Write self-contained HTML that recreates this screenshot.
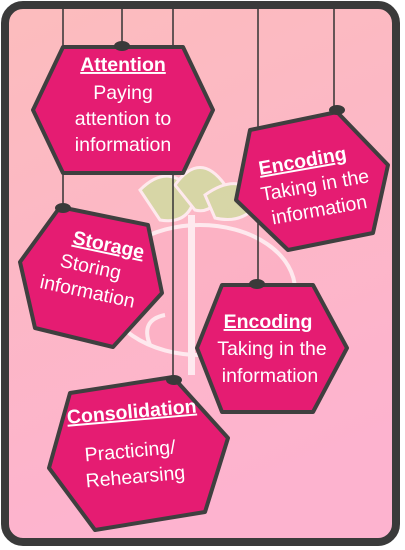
<!DOCTYPE html>
<html><head><meta charset="utf-8"><style>
html,body{margin:0;padding:0;background:#fff;}
svg{display:block;}
text{font-family:"Liberation Sans",sans-serif;fill:#fff;text-anchor:middle;}
.t{font-weight:bold;font-size:19.5px;text-decoration:underline;}
.b{font-size:19.5px;}
</style></head><body>
<svg width="405" height="550" viewBox="0 0 405 550">
<defs>
<linearGradient id="bg" x1="0" y1="0" x2="0.3" y2="1">
<stop offset="0" stop-color="#fcbcbd"/><stop offset="1" stop-color="#fdb3cf"/>
</linearGradient>
</defs>
<rect x="5" y="5" width="391" height="537" rx="18" fill="url(#bg)" stroke="#3a3a3a" stroke-width="8"/>
<g opacity="0.7">
<path d="M140 190 Q170 160 195 195 Q190 225 160 220 Z" fill="#c8e39a" stroke="#fff" stroke-width="3"/>
<path d="M175 185 Q200 150 225 185 Q215 215 195 210 Z" fill="#c8e39a" stroke="#fff" stroke-width="3"/>
<path d="M205 195 Q240 170 260 200 Q245 225 215 218 Z" fill="#c8e39a" stroke="#fff" stroke-width="3"/>
<ellipse cx="200" cy="290" rx="95" ry="65" fill="#fcb0c4" stroke="#fff" stroke-width="4"/>
<rect x="188" y="215" width="7" height="160" fill="#fff"/>
<path d="M150 345 q-10 -25 15 -30" fill="none" stroke="#fff" stroke-width="4"/>
</g>
<g stroke="#333" stroke-width="1.5">
<line x1="63" y1="9" x2="63" y2="207"/>
<line x1="122" y1="9" x2="122" y2="45"/>
<line x1="173" y1="9" x2="173" y2="380"/>
<line x1="258" y1="9" x2="258" y2="283"/>
<line x1="334" y1="9" x2="334" y2="110"/>
</g>
<g stroke="#3f3f3f" stroke-width="4" stroke-linejoin="round" fill="#e51c72">
<polygon points="33,110 63,47 183,47 213,110 183,173 63,173"/>
<polygon points="250,130 337,112 388,165 373,233 288,250 236,200"/>
<polygon points="60,207 148,225 162,293 113,347 35,328 20,262"/>
<polygon points="222,285 313,285 347,348 313,412 222,412 197,348"/>
<polygon points="70,393 173,377 228,438 205,512 95,530 49,468"/>
</g>
<g fill="#3a3a3a">
<ellipse cx="122" cy="46" rx="8" ry="5"/><ellipse cx="337" cy="110" rx="8" ry="5"/>
<ellipse cx="63" cy="208" rx="8" ry="5"/><ellipse cx="257" cy="284" rx="8" ry="5"/>
<ellipse cx="174" cy="380" rx="8" ry="5"/>
</g>
<g>
<text class="t" x="123" y="71">Attention</text>
<text class="b" x="123" y="99">Paying</text>
<text class="b" x="123" y="125">attention to</text>
<text class="b" x="123" y="151">information</text>
</g>
<g transform="rotate(-10 312 180)">
<text class="t" x="306" y="166">Encoding</text>
<text class="b" x="314" y="192">Taking in the</text>
<text class="b" x="314" y="217">information</text>
</g>
<g transform="rotate(12 90 270)">
<text class="t" x="103" y="248">Storage</text>
<text class="b" x="90" y="273">Storing</text>
<text class="b" x="92" y="298">information</text>
</g>
<g>
<text class="t" x="268" y="328">Encoding</text>
<text class="b" x="272" y="355">Taking in the</text>
<text class="b" x="270" y="382">information</text>
</g>
<g transform="rotate(-5 135 450)">
<text class="t" x="135" y="418">Consolidation</text>
<text class="b" x="130" y="457">Practicing/</text>
<text class="b" x="133" y="483">Rehearsing</text>
</g>
</svg>
</body></html>
